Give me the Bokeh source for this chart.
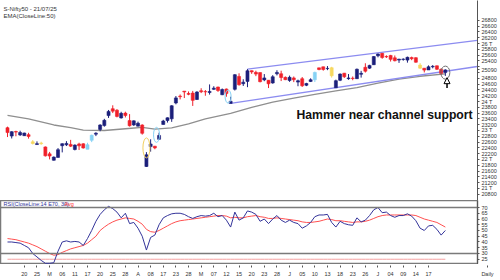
from bokeh.plotting import figure
from bokeh.models import Range1d, FixedTicker, Span, Label, Arrow, NormalHead
from bokeh.layouts import column
from bokeh.embed import file_html
from bokeh.resources import INLINE

# ---------------- data ----------------
dates = ["14/02","17/02","18/02","19/02","20/02","21/02","24/02","25/02","27/02","28/02",
         "03/03","04/03","05/03","06/03","07/03","10/03","11/03","12/03","13/03","17/03",
         "18/03","19/03","20/03","21/03","24/03","25/03","26/03","27/03","28/03","01/04",
         "02/04","03/04","04/04","07/04","08/04","09/04","11/04","15/04","16/04","17/04",
         "21/04","22/04","23/04","24/04","25/04","28/04","29/04","30/04","02/05","05/05",
         "06/05","07/05","08/05","09/05","12/05","13/05","14/05","15/05","16/05","19/05",
         "20/05","21/05","22/05","23/05","26/05","27/05","28/05","29/05","30/05","02/06",
         "03/06","04/06","05/06","06/06","09/06","10/06","11/06","12/06","13/06","16/06",
         "17/06","18/06","19/06","20/06","23/06","24/06","25/06","26/06","27/06","30/06",
         "01/07","02/07","03/07","04/07","07/07","08/07","09/07","10/07","11/07","14/07",
         "15/07","16/07","17/07","18/07","21/07"]
opens = [23096,22809,22963,22847,22821,22857,22609,22516,22568,22433,
         22194,21974,22073,22476,22508,22521,22345,22536,22541,22353,
         22662,22874,23036,23169,23515,23751,23700,23433,23600,23341,
         23192,23150,23190,21758,22446,22460,22695,23208,23344,23402,
         23949,24185,24357,24277,24289,24070,24371,24342,24311,24419,
         24500,24233,24431,23935,24420,24864,24613,24694,25064,25005,
         24996,24745,24733,24639,24956,24956,24832,24726,24813,24669,
         24786,24560,24691,24748,25160,25196,25134,25164,24473,24732,
         24977,24788,24803,24787,24939,25179,25150,25268,25576,25661,
         25551,25588,25505,25428,25450,25427,25514,25511,25255,25149,
         25089,25196,25231,25108,24999]
highs = [23133,22974,22992,22992,22923,22921,22668,22625,22613,22450,
         22262,22105,22394,22556,22633,22677,22522,22578,22558,22577,
         22857,22940,23216,23402,23708,23869,23736,23646,23649,23565,
         23350,23306,23214,22254,22697,22468,22923,23368,23452,23872,
         24189,24242,24359,24347,24365,24355,24457,24396,24589,24526,
         24509,24449,24447,24164,24944,24973,24767,25116,25070,25062,
         24997,24946,24737,24909,25079,25062,24864,24893,24863,24754,
         24845,24644,24800,25029,25160,25199,25222,25196,24754,24967,
         24983,24947,24863,25137,25057,25318,25266,25565,25655,25669,
         25593,25608,25587,25470,25489,25548,25548,25525,25322,25151,
         25245,25255,25238,25145,25111]
lows = [22774,22725,22801,22814,22812,22720,22518,22508,22508,22104,
        22004,21964,22067,22245,22464,22429,22314,22329,22377,22353,
        22599,22807,22973,23132,23433,23601,23452,23412,23450,23136,
        23158,23145,22858,21743,22271,22353,22695,23207,23273,23298,
        23903,24073,24119,24216,23847,24054,24290,24198,24238,24400,
        24331,24220,24164,23936,24378,24547,24535,24494,24953,24874,
        24660,24700,24463,24614,24900,24704,24737,24677,24669,24526,
        24502,24530,24671,24671,25077,25063,25081,24825,24473,24703,
        24813,24750,24733,24783,24824,24999,25125,25259,25523,25473,
        25501,25378,25384,25331,25407,25340,25425,25340,25129,25002,
        25089,25144,25086,24919,24882]
closes = [22929,22959,22945,22932,22913,22796,22553,22547,22545,22125,
          22119,22083,22337,22545,22553,22461,22497,22470,22397,22509,
          22834,22907,23190,23350,23658,23668,23486,23591,23519,23165,
          23332,23250,22904,22161,22536,22399,22829,23328,23437,23852,
          24125,24167,24329,24247,24039,24328,24336,24334,24347,24461,
          24380,24414,24273,24008,24925,24578,24667,25062,25020,24945,
          24684,24813,24610,24853,25002,24827,24753,24833,24751,24716,
          24543,24620,24751,25003,25103,25104,25141,24888,24718,24946,
          24853,24812,24793,25112,24972,25045,25245,25549,25637,25517,
          25542,25453,25405,25461,25461,25523,25476,25355,25150,25082,
          25196,25212,25112,24968,25090]

# EMA(50) of close, vertices (candle index, value)
ema_idx = [0, 5, 11, 15, 18, 23, 28, 32, 35, 39, 43, 47, 53, 58, 63, 68, 73, 78, 83, 88, 93, 98, 104]
ema_val = [23520, 23400, 23190, 23100, 23015, 23000, 23060, 23110, 23050, 23090, 23230, 23400,
           23590, 23800, 23980, 24120, 24245, 24370, 24475, 24630, 24775, 24870, 24950]

# RSI(14) and its average, read per candle
rsi = [40, 40, 39.5, 39, 37, 35, 30, 27, 24, 21.5,
       21.5, 22, 32, 40, 41, 40, 40.5, 40, 37, 43,
       50, 58, 64, 68, 71, 69, 66, 61, 65, 56,
       57, 52, 45, 33, 44, 46, 55, 61, 63, 64.5,
       65, 65, 64, 62, 60.5, 62, 63, 62.5, 63, 65,
       62, 63, 59, 53, 66, 59, 61, 67, 66, 64,
       58, 60, 56, 60, 63, 59, 57, 59, 57, 56,
       52, 54, 57, 62, 63.5, 63.5, 64, 57, 53, 58,
       56, 55, 54.5, 61, 57.5, 59, 63, 68, 70, 65.5,
       66, 63, 61.5, 63, 63, 64.5, 62.5, 58.5, 52, 50,
       54, 54.5, 51, 46, 50]
rsi_avg = [43, 42.5, 42, 41, 40, 39, 37.5, 36, 34, 32,
           30, 28.5, 29, 31, 32.5, 34, 35, 36, 37, 39,
           42, 45, 50, 53, 55.5, 57.5, 59, 60, 61, 60.5,
           60, 58, 55.5, 51, 49, 48.5, 50, 52, 54, 56,
           57.5, 58.5, 59, 59.5, 60, 60.5, 61, 61.5, 62, 62.5,
           63, 63, 62.5, 61, 61.5, 61, 61, 62, 62.5, 63,
           62, 61.5, 60.5, 60.5, 61, 60.5, 60, 59.5, 59, 58.5,
           57.5, 57, 57, 57.5, 58, 59, 60, 59.5, 58.5, 58.5,
           58, 57.5, 57, 57.5, 57.5, 58, 59, 60.5, 62, 63,
           63.5, 63.5, 63.5, 63.5, 63.5, 63.5, 63.5, 63, 61.5, 60,
           59, 58, 57, 55, 53]

# channel trendlines (candle index, price)
chan_low_x = [53, 111.6]
chan_low_y = [23936, 25207]
chan_up_x = [57, 111.6]
chan_up_y = [25116, 26110]

# highlighted pattern candles
yellow_idx = [6, 8, 77, 98]
cyan_idx = [19, 20, 73]

xtick_labels = ["20","25","M","06","11","17","20","25","28","A","08","17","23","28","M","07",
                "12","15","20","23","28","J","05","10","13","18","23","26","J","04","09","14","17"]
price_ticks = list(range(20800, 26801, 200))
rsi_ticks = [25, 30, 35, 40, 45, 50, 55, 60, 65, 70]

# ---------------- styling ----------------
UP = "#1b1f7a"
DOWN = "#f0202a"
YEL = "#f7d860"
CYAN = "#86d2f5"
FONT = "Liberation Sans"
PX_PER_BAR = 4.21
n = len(closes)
idx = list(range(n))
colors = []
for i in idx:
    c = UP if closes[i] >= opens[i] else DOWN
    if i in yellow_idx:
        c = YEL
    if i in cyan_idx:
        c = CYAN
    colors.append(c)
tops = [max(o, c) for o, c in zip(opens, closes)]
bots = [min(o, c) for o, c in zip(opens, closes)]

x0 = -7 / PX_PER_BAR
x_range = Range1d(x0, x0 + 477 / PX_PER_BAR)

p1 = figure(frame_width=477, frame_height=200, x_range=x_range,
            y_range=Range1d(20586, 27483), output_backend="svg", toolbar_location=None,
            x_axis_location=None, y_axis_location="right",
            min_border_left=0, min_border_top=0, min_border_bottom=0, min_border_right=23)
p1.outline_line_color = None
p1.grid.visible = False
p1.background_fill_color = "white"

# EMA
p1.line(ema_idx, ema_val, line_color="#8f8f8f", line_width=1.3)
# channel
p1.line(chan_up_x, chan_up_y, line_color="#8c8cf0", line_width=1.3)
p1.line(chan_low_x, chan_low_y, line_color="#8c8cf0", line_width=1.3)
# candles
p1.segment(x0=idx, y0=lows, x1=idx, y1=highs, line_color=colors, line_width=1)
p1.vbar(x=idx, top=tops, bottom=bots, width=0.72, fill_color=colors, line_color=colors, line_width=0.6)

# pattern ellipses
p1.ellipse(x=[33], y=[22400], width=7, height=20, width_units="screen", height_units="screen",
           fill_color=None, line_color="#f2d060", line_width=1)
p1.ellipse(x=[35.4], y=[22850], width=6, height=15, width_units="screen", height_units="screen",
           fill_color=None, line_color="#86d2f5", line_width=1)
p1.ellipse(x=[52.4], y=[24170], width=6, height=13, width_units="screen", height_units="screen",
           fill_color=None, line_color="#86d2f5", line_width=1)
last = n - 1
p1.ellipse(x=[last], y=[(highs[last] + lows[last]) / 2], width=9, height=13,
           width_units="screen", height_units="screen",
           fill_color=None, line_color="#707070", line_width=1)
# arrow under hammer
p1.add_layout(Arrow(end=NormalHead(size=6, fill_color="white", line_color="black", line_width=1),
                    x_start=last + 0.4, y_start=lows[last] - 420, x_end=last + 0.4, y_end=lows[last] - 60,
                    line_color="black", line_width=1.5))

# price axis; the last close is shown among the tick labels
last_close = closes[last]
p1.yaxis.ticker = FixedTicker(ticks=price_ticks + [last_close])
overrides = {}
for v in price_ticks:
    overrides[v] = (f"{v // 1000} T" if v % 1000 == 0 else str(v))
for v in (25000, 25200):
    overrides[v] = ""
overrides[last_close] = str(last_close)
p1.yaxis.major_label_overrides = overrides
p1.yaxis.major_label_text_font_size = "5.5px"
p1.yaxis.major_label_text_font = FONT
p1.yaxis.major_label_text_color = "#333333"
p1.yaxis.axis_line_color = "#555555"
p1.yaxis.major_tick_line_color = "#555555"
p1.yaxis.major_tick_out = 2
p1.yaxis.major_tick_in = 0
p1.yaxis.minor_tick_line_color = None
p1.yaxis.major_label_standoff = 2

p1.add_layout(Label(x=3, y=192, x_units="screen", y_units="screen", text="S-Nifty50 - 21/07/25",
                    text_font=FONT, text_font_size="6px", text_color="#333333", text_baseline="middle"))
p1.add_layout(Label(x=3, y=185, x_units="screen", y_units="screen", text="EMA(CloseLine:50)",
                    text_font=FONT, text_font_size="6px", text_color="#333333", text_baseline="middle"))
p1.add_layout(Label(x=296, y=86, x_units="screen", y_units="screen", text="Hammer near channel support",
                    text_font=FONT, text_font_size="12.2px", text_font_style="bold", text_color="#111111",
                    text_baseline="middle"))

# ---------------- RSI panel ----------------
p2 = figure(frame_width=477, frame_height=64, x_range=x_range,
            y_range=Range1d(20.43, 76.09), output_backend="svg", toolbar_location=None,
            x_axis_location=None, y_axis_location="right",
            min_border_left=0, min_border_top=0, min_border_bottom=0, min_border_right=23)
p2.outline_line_color = "#7a7a7a"
p2.outline_line_width = 1.5
p2.grid.visible = False
p2.add_layout(Span(location=70, dimension="width", line_color="#7a7a7a", line_width=1.5))
p2.add_layout(Span(location=30, dimension="width", line_color="#7a7a7a", line_width=1.5))
p2.line(idx, [25] * n, line_color="#f4a0a0", line_width=1)
p2.line(idx, rsi_avg, line_color="#ff5050", line_width=1)
p2.line(idx, rsi, line_color="#34349a", line_width=1)

p2.yaxis.ticker = FixedTicker(ticks=rsi_ticks)
p2.yaxis.major_label_text_font_size = "5.5px"
p2.yaxis.major_label_text_font = FONT
p2.yaxis.major_label_text_color = "#333333"
p2.yaxis.axis_line_color = "#555555"
p2.yaxis.major_tick_line_color = "#555555"
p2.yaxis.major_tick_out = 2
p2.yaxis.major_tick_in = 0
p2.yaxis.minor_tick_line_color = None
p2.yaxis.major_label_standoff = 2

p2.add_layout(Label(x=3, y=61, x_units="screen", y_units="screen", text="RSI(CloseLine:14 E70, 30)",
                    text_font=FONT, text_font_size="5.5px", text_color="#34349a", text_baseline="middle"))
p2.add_layout(Label(x=64, y=61, x_units="screen", y_units="screen", text="Avg",
                    text_font=FONT, text_font_size="5.5px", text_color="#ff3030", text_baseline="middle"))

# ---------------- date axis strip (full width, so "Daily" sits at the right) ----------------
p3 = figure(frame_width=500, frame_height=1, x_range=Range1d(x0, x0 + 500 / PX_PER_BAR),
            y_range=Range1d(0, 1), output_backend="svg", toolbar_location=None,
            x_axis_location="below", y_axis_location=None,
            min_border_left=0, min_border_top=0, min_border_right=0, min_border_bottom=0)
p3.outline_line_color = None
p3.grid.visible = False
xt = [4 + 3 * k for k in range(len(xtick_labels))]
daily_pos = (487 - 7) / PX_PER_BAR
p3.xaxis.ticker = FixedTicker(ticks=xt + [daily_pos])
lab = {t: s for t, s in zip(xt, xtick_labels)}
lab[daily_pos] = "Daily"
p3.xaxis.major_label_overrides = lab
p3.xaxis.major_label_text_font_size = "5.5px"
p3.xaxis.major_label_text_font = FONT
p3.xaxis.major_label_text_color = "#333333"
p3.xaxis.axis_line_color = None
p3.xaxis.major_tick_line_color = "#555555"
p3.xaxis.major_tick_out = 2
p3.xaxis.major_tick_in = 0
p3.xaxis.minor_tick_line_color = None
p3.xaxis.major_label_standoff = 3

layout = column(p1, p2, p3, spacing=0)
open("out.html", "w").write(file_html(layout, INLINE))
